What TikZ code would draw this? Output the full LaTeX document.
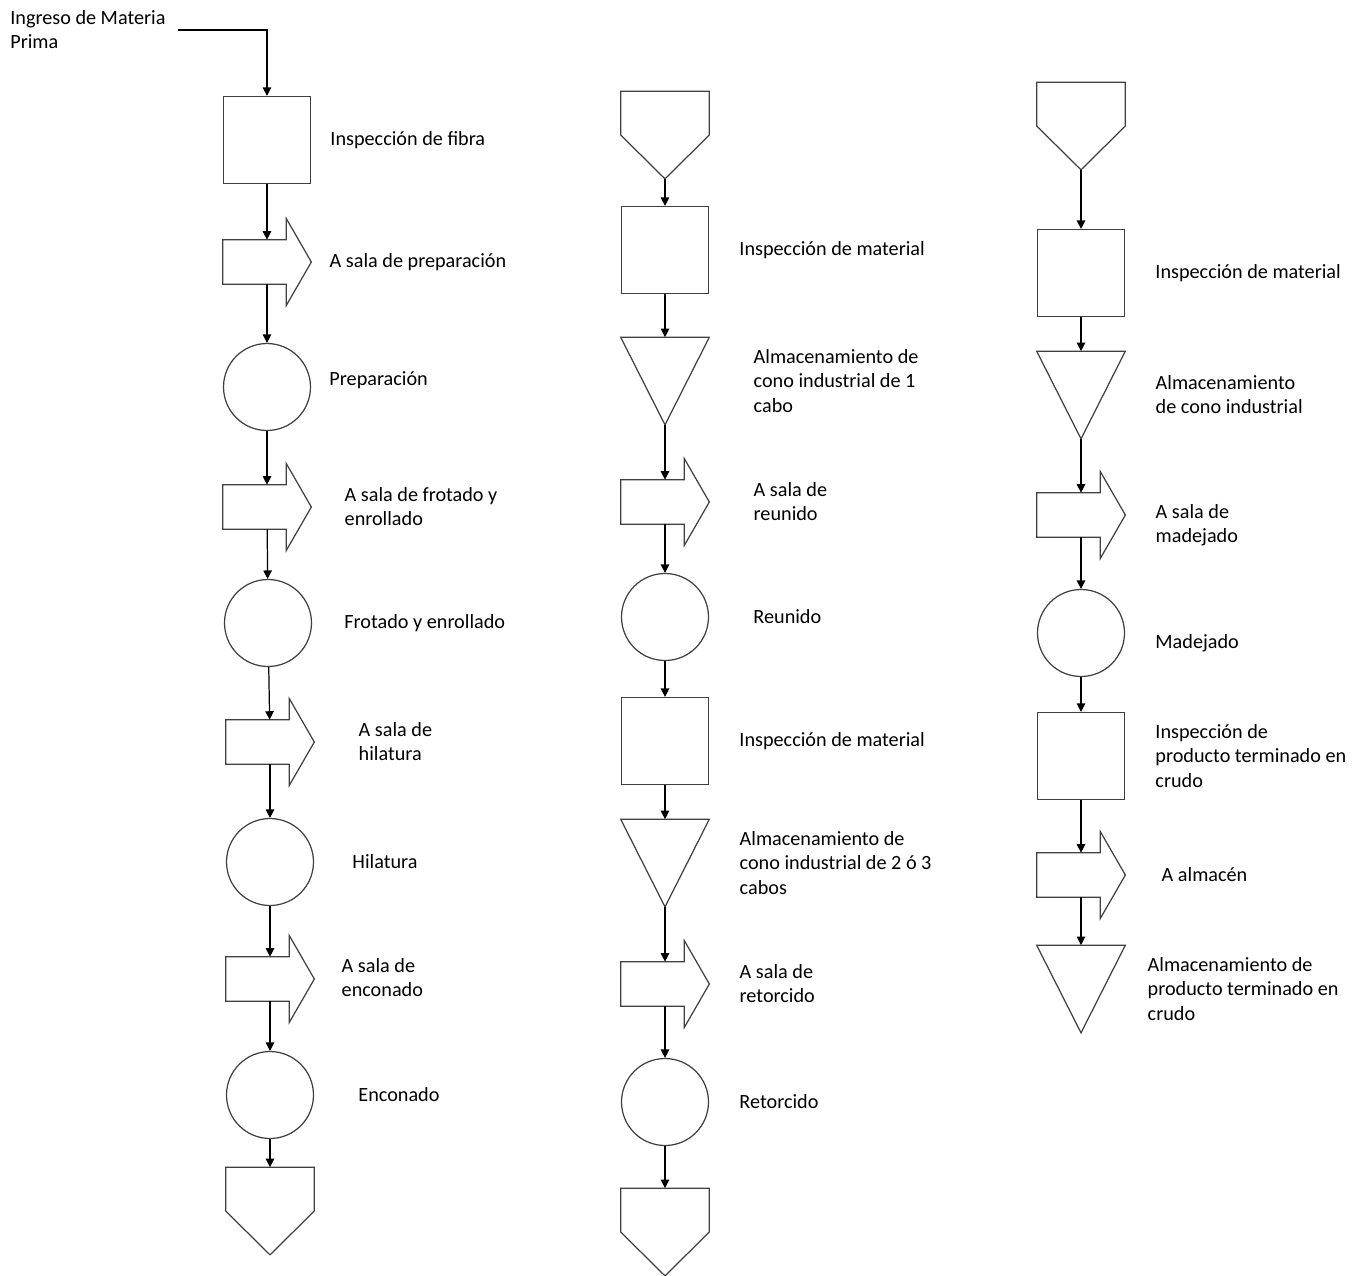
\documentclass[tikz,border=0pt]{standalone}
\usepackage{fontspec}
\setmainfont{Carlito}
\usetikzlibrary{arrows.meta,positioning}

\begin{document}
\begin{tikzpicture}[
  x=0.02cm, y=-0.02cm,
  every node/.style={inner sep=0pt},
  forma/.style={draw=black!75, line width=0.7pt, line join=miter},
  cuadro/.style={forma, minimum size=1.74cm},
  circulo/.style={forma, circle, minimum size=1.74cm},
  caja/.style={minimum width=1.76cm, minimum height=1.74cm},
  transp/.style={minimum width=1.76cm, minimum height=0.88cm},
  texto/.style={font=\fontsize{11.5}{13.7}\selectfont, align=left},
  flecha/.style={-{Triangle[length=4.8pt,width=4.8pt]}, line width=0.7pt},
]
\useasboundingbox (0,0) rectangle (1362,1275);

% hilatura
\node[texto, anchor=west] (ing) at (10,30) {Ingreso de Materia\\Prima};
\node[cuadro] (s1) at (267,140) {};
\node[transp] (t1) at (267,262) {};
\node[circulo] (c1) at (267,387) {};
\node[transp] (t2) at (267,507) {};
\node[circulo] (c2) at (268,623) {};
\node[transp] (t3) at (270,742) {};
\node[circulo] (c3) at (270,862) {};
\node[transp] (t4) at (270,979) {};
\node[circulo] (c4) at (270,1095) {};
\node[caja] (k1) at (270,1211) {};

\node[texto, right=0.38cm of s1] {Inspección de fibra};
\node[texto, right=0.36cm of t1] {A sala de preparación};
\node[texto, right=0.36cm of c1, yshift=0.14cm] {Preparación};
\node[texto, right=0.66cm of t2] {A sala de frotado y\\enrollado};
\node[texto, right=0.64cm of c2] {Frotado y enrollado};
\node[texto, right=0.88cm of t3] {A sala de\\hilatura};
\node[texto, right=0.76cm of c3] {Hilatura};
\node[texto, right=0.54cm of t4, yshift=0.03cm] {A sala de\\enconado};
\node[texto, right=0.88cm of c4] {Enconado};

% reunido y retorcido
\node[caja] (k2) at (665,135) {};
\node[cuadro] (s2) at (665,250) {};
\node[caja] (a1) at (665,381) {};
\node[transp] (t5) at (665,502) {};
\node[circulo] (c5) at (665,617) {};
\node[cuadro] (s3) at (665,741) {};
\node[caja] (a2) at (665,863) {};
\node[transp] (t6) at (665,984) {};
\node[circulo] (c6) at (665,1102) {};
\node[caja] (k3) at (665,1232) {};

\node[texto, right=0.6cm of s2] {Inspección de material};
\node[texto, right=0.88cm of a1] {Almacenamiento de\\cono industrial de 1\\cabo};
\node[texto, right=0.88cm of t5] {A sala de\\reunido};
\node[texto, right=0.88cm of c5] {Reunido};
\node[texto, right=0.6cm of s3] {Inspección de material};
\node[texto, right=0.6cm of a2] {Almacenamiento de\\cono industrial de 2 ó 3\\cabos};
\node[texto, right=0.6cm of t6] {A sala de\\retorcido};
\node[texto, right=0.6cm of c6] {Retorcido};

% madejado
\node[caja] (k4) at (1081,126) {};
\node[cuadro] (s4) at (1081,273) {};
\node[caja] (a3) at (1081,395) {};
\node[transp] (t7) at (1081,515) {};
\node[circulo] (c7) at (1081,633) {};
\node[cuadro] (s5) at (1081,756) {};
\node[transp] (t8) at (1081,875) {};
\node[caja] (a4) at (1081,989) {};

\node[texto, right=0.6cm of s4] {Inspección de material};
\node[texto, right=0.6cm of a3] {Almacenamiento\\de cono industrial};
\node[texto, right=0.6cm of t7, yshift=-0.2cm] {A sala de\\madejado};
\node[texto, right=0.6cm of c7, yshift=-0.2cm] {Madejado};
\node[texto, right=0.6cm of s5] {Inspección de\\producto terminado en\\crudo};
\node[texto, right=0.72cm of t8] {A almacén};
\node[texto, right=0.44cm of a4] {Almacenamiento de\\producto terminado en\\crudo};

% contornos
\foreach \n in {a1,a2,a3,a4}
  \draw[forma] (\n.north west) -- (\n.north east) -- (\n.south) -- cycle;
\foreach \n in {k1,k2,k3,k4}
  \draw[forma] (\n.north west) -- (\n.north east) -- (\n.east) -- (\n.south) -- (\n.west) -- cycle;
\foreach \i in {1,...,8}
  \draw[forma] (t\i.north west) -- ([xshift=-0.5cm]t\i.north east)
    -- ([xshift=-0.5cm,yshift=0.42cm]t\i.north east) -- (t\i.east)
    -- ([xshift=-0.5cm,yshift=-0.42cm]t\i.south east) -- ([xshift=-0.5cm]t\i.south east)
    -- (t\i.south west) -- cycle;

% conexiones
\draw[flecha] ([xshift=0.24cm]ing.east) -| (s1);
\draw[flecha] (s1) -- (t1);
\draw[flecha] (t1) -- (c1);
\draw[flecha] (c1) -- (t2);
\draw[flecha] (t2) -- (c2);
\draw[flecha] (c2) -- (t3);
\draw[flecha] (t3) -- (c3);
\draw[flecha] (c3) -- (t4);
\draw[flecha] (t4) -- (c4);
\draw[flecha] (c4) -- (k1);

\draw[flecha] (k2) -- (s2);
\draw[flecha] (s2) -- (a1);
\draw[flecha] (a1) -- (t5);
\draw[flecha] (t5) -- (c5);
\draw[flecha] (c5) -- (s3);
\draw[flecha] (s3) -- (a2);
\draw[flecha] (a2) -- (t6);
\draw[flecha] (t6) -- (c6);
\draw[flecha] (c6) -- (k3);

\draw[flecha] (k4) -- (s4);
\draw[flecha] (s4) -- (a3);
\draw[flecha] (a3) -- (t7);
\draw[flecha] (t7) -- (c7);
\draw[flecha] (c7) -- (s5);
\draw[flecha] (s5) -- (t8);
\draw[flecha] (t8) -- (a4);
\end{tikzpicture}
\end{document}
